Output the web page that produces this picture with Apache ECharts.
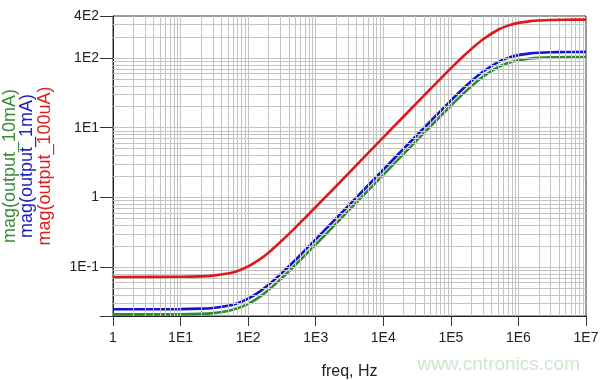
<!DOCTYPE html>
<html>
<head>
<meta charset="utf-8">
<script src="https://cdn.jsdelivr.net/npm/echarts@6/dist/echarts.min.js"></script>
<style>html,body{margin:0;padding:0;background:#fff}#c{width:600px;height:380px}</style>
</head>
<body>
<div id="c"></div>
<script>
// frequency points (Hz)
var freqs = [1,10,20,30,50,70,100,150,200,300,500,700,1e3,2e3,5e3,1e4,2e4,5e4,1e5,1.5e5,2e5,3e5,5e5,7e5,1e6,1.5e6,2e6,3e6,5e6,1e7];
// mag(output_10mA)
var green = [0.0211,0.0212,0.0215,0.0220,0.0236,0.0258,0.0298,0.0380,0.0472,0.0667,0.108,0.149,0.212,0.422,1.06,2.11,4.22,10.5,20.7,30.3,39.1,54.0,73.8,84.7,92.8,98.3,100.4,102.0,102.9,103.3];
// mag(output_1mA)
var blue = [0.0250,0.0251,0.0255,0.0261,0.0280,0.0305,0.0354,0.0451,0.0559,0.0791,0.127,0.177,0.251,0.500,1.25,2.50,5.00,12.4,24.5,35.9,46.3,64.0,87.5,100.4,110,116.5,119,120.9,121.9,122.3];
// mag(output_100uA)
var red = [0.0726,0.0730,0.0740,0.0758,0.0812,0.0886,0.1027,0.131,0.162,0.230,0.370,0.513,0.730,1.45,3.63,7.26,14.5,36.1,71.1,104,134,186,254,291,319,338,345,351,354,355];
var seriesNames = ['mag(output_10mA)','mag(output_1mA)','mag(output_100uA)'];
var xMin = 1, xMax = 1e7, yMin = 0.02, yMax = 400;
var xAxisName = 'freq, Hz';
var watermark = 'www.cntronics.com';

function pairs(ys){ return freqs.map(function(f,i){ return [f, ys[i]]; }); }
function gridVals(lo, hi){
  var out = [];
  for (var e = -3; e <= 8; e++) {
    for (var m = 1; m <= 9; m++) {
      var v = +(m * Math.pow(10, e)).toPrecision(6);
      if (v > lo * 1.0001 && v < hi * 0.9999) out.push(v);
    }
  }
  return out;
}
function fmt(v){
  if (v < 0.05) return '';
  var e = Math.floor(Math.log10(v) + 1e-9);
  var m = Math.round(v / Math.pow(10, e));
  if (e === 0) return String(m);
  return m + 'E' + e;
}
var font = 'Liberation Sans, Arial, sans-serif';
var gridLineData = gridVals(xMin, xMax).map(function(v){ return {xAxis: v}; })
  .concat(gridVals(yMin, yMax).map(function(v){ return {yAxis: v}; }));

var chart = echarts.init(document.getElementById('c'), null, {renderer:'canvas'});
chart.setOption({
  animation: false,
  backgroundColor: '#fff',
  grid: {left: 113, right: 14, top: 16, bottom: 64, show: true, borderColor: '#333', borderWidth: 1, backgroundColor: 'transparent', containLabel: false, outerBoundsMode: 'none'},
  xAxis: {
    type: 'log', logBase: 10, min: xMin, max: xMax,
    name: xAxisName, nameLocation: 'middle', nameGap: 48,
    nameTextStyle: {fontFamily: font, fontSize: 16, color: '#222'},
    axisLine: {show: true, lineStyle: {color: '#222', width: 1}},
    axisTick: {show: true, length: 10, inside: false, lineStyle: {color: '#333'}},
    axisLabel: {fontFamily: font, fontSize: 14, color: '#222', margin: 15, showMinLabel: true, showMaxLabel: true, formatter: fmt},
    splitLine: {show: false}, minorTick: {show: false}
  },
  yAxis: {
    type: 'log', logBase: 10, min: yMin, max: yMax,
    axisLine: {show: true, lineStyle: {color: '#222', width: 1}},
    axisTick: {show: true, length: 13, inside: false, lineStyle: {color: '#333'}},
    axisLabel: {fontFamily: font, fontSize: 14, color: '#222', margin: 14, showMinLabel: true, showMaxLabel: true, formatter: fmt},
    splitLine: {show: false}, minorTick: {show: false}
  },
  graphic: [
    {type:'text', x: 10, y: 166, rotation: Math.PI/2, silent: true,
     style:{text: seriesNames[0], fill:'#3a8c3a', font: '18px ' + font, align:'center', verticalAlign:'middle', textAlign:'center', textVerticalAlign:'middle'}},
    {type:'text', x: 27.5, y: 166, rotation: Math.PI/2, silent: true,
     style:{text: seriesNames[1], fill:'#2020b8', font: '18px ' + font, align:'center', verticalAlign:'middle', textAlign:'center', textVerticalAlign:'middle'}},
    {type:'text', x: 45.5, y: 166, rotation: Math.PI/2, silent: true,
     style:{text: seriesNames[2], fill:'#dd2020', font: '18px ' + font, align:'center', verticalAlign:'middle', textAlign:'center', textVerticalAlign:'middle'}},
    {type:'text', right: 20, top: 355, silent: true,
     style:{text: watermark, fill:'#cde6cd', font: '19px ' + font}}
  ],
  series: [
    {type:'line', name:'grid', data: [], z: 1, silent: true,
     markLine: {silent: true, symbol: ['none','none'], animation: false, label: {show: false},
       lineStyle: {color: '#c4c4c4', width: 1, type: 'solid'}, emphasis: {disabled: true},
       data: gridLineData}},
    {type:'line', name: seriesNames[0], data: pairs(green), z: 3, smooth: 0.3, showSymbol: false, lineStyle:{color:'#2e8b35', width: 2.6}, itemStyle:{color:'#2e8b35'}},
    {type:'line', name: seriesNames[1], data: pairs(blue), z: 4, smooth: 0.3, showSymbol: false, lineStyle:{color:'#1414cc', width: 2.6}, itemStyle:{color:'#1414cc'}},
    {type:'line', name: seriesNames[2], data: pairs(red), z: 5, smooth: 0.3, showSymbol: false, lineStyle:{color:'#e01818', width: 2.6}, itemStyle:{color:'#e01818'}}
  ]
});
</script>
</body>
</html>
